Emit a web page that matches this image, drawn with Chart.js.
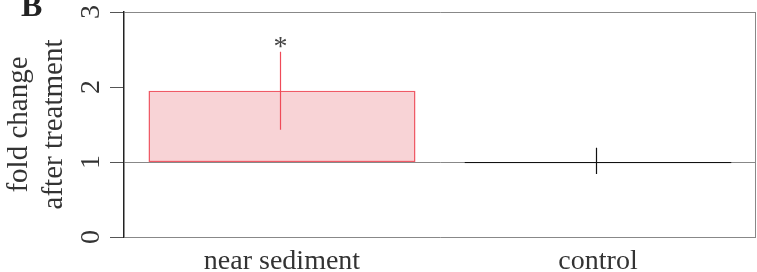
<!DOCTYPE html>
<html>
<head>
<meta charset="utf-8">
<script src="https://cdn.jsdelivr.net/npm/chart.js@4.4.1/dist/chart.umd.min.js"></script>
<style>
  html, body { margin: 0; padding: 0; background: #fff; }
  #wrap { width: 757px; height: 272px; position: relative; }
</style>
</head>
<body>
<div id="wrap"><canvas id="fc-chart"></canvas></div>
<script>
// categories and values
const groups = ['near sediment', 'control'];
const barBase = [1, 0.985];
const barTop = [1.95, 1.0];
const errLow = [1.43, 0.84];
const errHigh = [2.47, 1.19];
const sigMarks = ['*', ''];
const yTicks = [0, 1, 2, 3];

const fillColors = ['#f8d3d6', '#111'];
const edgeColors = ['#ef5a66', '#111'];
const errColors = ['#ef4a58', '#111'];

const serif = '"Liberation Serif", "DejaVu Serif", serif';

// error bars + significance marks, drawn through the scales
const errorBars = {
    id: 'errorBars',
    afterDatasetsDraw(chart) {
        let ctx = chart.ctx;
        let x = chart.scales.x, y = chart.scales.y;
        ctx.save();
        for (let i = 0; i < groups.length; i++) {
            let px = Math.round(x.getPixelForValue(i)) - 1.5;
            ctx.strokeStyle = errColors[i];
            ctx.lineWidth = 1.2;
            ctx.beginPath();
            ctx.moveTo(px, y.getPixelForValue(errLow[i]));
            ctx.lineTo(px, y.getPixelForValue(errHigh[i]));
            ctx.stroke();
            if (sigMarks[i]) {
                ctx.fillStyle = '#444';
                ctx.font = '28px ' + serif;
                ctx.textAlign = 'center';
                ctx.textBaseline = 'alphabetic';
                ctx.fillText(sigMarks[i], px, y.getPixelForValue(errHigh[i]) + 3);
            }
        }
        ctx.restore();
    }
};

// rotated tick numbers, right edge line and panel letter
const frame = {
    id: 'frame',
    afterDraw(chart) {
        let ctx = chart.ctx;
        let y = chart.scales.y;
        let a = chart.chartArea;
        ctx.save();
        ctx.strokeStyle = '#888';
        ctx.lineWidth = 1;
        ctx.beginPath();
        ctx.moveTo(a.right - 0.5, a.top);
        ctx.lineTo(a.right - 0.5, a.bottom);
        ctx.stroke();
        ctx.fillStyle = '#333';
        ctx.font = '28px ' + serif;
        ctx.textAlign = 'center';
        ctx.textBaseline = 'middle';
        for (let v of yTicks) {
            ctx.save();
            ctx.translate(92, y.getPixelForValue(v));
            ctx.rotate(-Math.PI / 2);
            ctx.fillText(String(v), 0, 0);
            ctx.restore();
        }
        ctx.font = 'bold 32px ' + serif;
        ctx.textAlign = 'left';
        ctx.textBaseline = 'alphabetic';
        ctx.fillStyle = '#222';
        ctx.fillText('B', 21, 16);
        ctx.restore();
    }
};

var chart = new Chart(document.getElementById('fc-chart'), {
    type: 'bar',
    data: {
        labels: groups,
        datasets: [{
            data: groups.map((g, i) => [barBase[i], barTop[i]]),
            backgroundColor: fillColors,
            borderColor: edgeColors,
            borderWidth: 1.5,
            borderSkipped: false,
            barPercentage: 0.845,
            categoryPercentage: 1
        }]
    },
    options: {
        responsive: true,
        maintainAspectRatio: false,
        animation: false,
        layout: { padding: { top: 12, right: 1, left: 0, bottom: 0 } },
        plugins: { legend: { display: false }, tooltip: { enabled: false } },
        scales: {
            x: {
                offset: true,
                grid: { display: false },
                border: { display: false },
                ticks: { color: '#333', font: { family: serif, size: 28 }, padding: 0, maxRotation: 0 },
                afterFit: (s) => { s.height = 35; }
            },
            y: {
                min: 0,
                max: 3,
                ticks: { stepSize: 1, display: false },
                grid: {
                    color: (c) => c.tick && c.tick.value === 2 ? 'rgba(0,0,0,0)' : '#888',
                    tickColor: '#555',
                    tickLength: 14,
                    lineWidth: 1
                },
                border: { display: true, color: '#222', width: 1.5 },
                title: {
                    display: true,
                    text: ['fold change', 'after treatment'],
                    color: '#333',
                    font: { family: serif, size: 29, lineHeight: 1.2 },
                    padding: { top: 2, bottom: 0 }
                },
                afterFit: (s) => { s.width = 124; }
            }
        }
    },
    plugins: [errorBars, frame]
});
</script>
</body>
</html>
